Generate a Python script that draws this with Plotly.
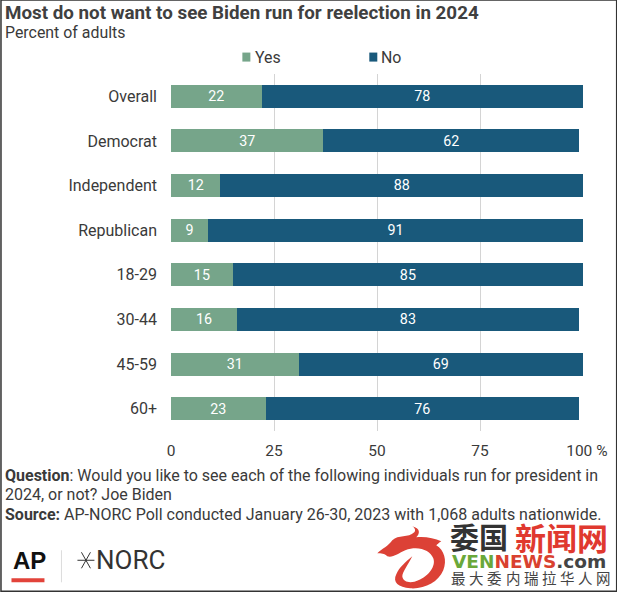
import plotly.graph_objects as go

categories = ["Overall", "Democrat", "Independent", "Republican", "18-29", "30-44", "45-59", "60+"]
yes_values = [22, 37, 12, 9, 15, 16, 31, 23]
no_values = [78, 62, 88, 91, 85, 83, 69, 76]
x_ticks = [0, 25, 50, 75, 100]
x_labels = ["0", "25", "50", "75", "\u00a0\u00a0100 %"]
YES = "#76a58a"
NO = "#19597b"
W, H = 617, 592
L, R, T, B = 170.6, 582.8, 74.4, 430.9
FONT = "Roboto"
TXT = "#3a3a3a"

fig = go.Figure()
for name, vals, col in [("Yes", yes_values, YES), ("No", no_values, NO)]:
    fig.add_bar(y=categories, x=vals, name=name, orientation="h", marker=dict(color=col, line_width=0),
                text=[str(v) for v in vals], textposition="inside", insidetextanchor="middle", textangle=0,
                textfont=dict(color="white", size=16, family=FONT))

def px(x): return (x - L) / (R - L)
def py(y): return 1 - (y - T) / (B - T)

def note(x, y, text, size, color=TXT, anchor="left", family=FONT):
    fig.add_annotation(xref="paper", yref="paper", x=px(x), y=py(y), text=text, showarrow=False,
                       xanchor=anchor, yanchor="middle", align="left", borderpad=0, borderwidth=0,
                       font=dict(size=size, color=color, family=family))

def seg(x0, y0, x1, y1, color, width):
    fig.add_shape(type="line", xref="paper", yref="paper", x0=px(x0), x1=px(x1), y0=py(y0), y1=py(y1),
                  line=dict(color=color, width=width))

note(4.5, 13, "<b>Most do not want to see Biden run for reelection in 2024</b>", 18.8, "#404040")
note(4.5, 33, "Percent of adults", 15.9)
note(4.5, 475, "<b>Question</b>: Would you like to see each of the following individuals run for president in", 16.0)
note(4.5, 494, "2024, or not? Joe Biden", 16.0)
note(4.5, 514, "<b>Source:</b> AP-NORC Poll conducted January 26-30, 2023 with 1,068 adults nationwide.", 16.0)

# legend
for x0, col in [(242, YES), (369, NO)]:
    fig.add_shape(type="rect", xref="paper", yref="paper", x0=px(x0), x1=px(x0+8), y0=py(62), y1=py(53), fillcolor=col, line_width=0)
note(254.5, 57.5, "Yes", 15.9)
note(381, 57.5, "No", 15.9)

# logos
note(13, 560, "<b>AP</b>", 24, "#111111", family="Liberation Sans")
fig.add_shape(type="rect", xref="paper", yref="paper", x0=px(11), x1=px(44), y0=py(582), y1=py(578), fillcolor="#e2433a", line_width=0)
seg(61, 550, 61, 582, "#dcdcdc", 1)
seg(77, 560, 94, 560, "#333333", 1)
seg(81, 552, 90, 568, "#333333", 1)
seg(90, 552, 81, 568, "#333333", 1)
note(95.5, 560, "NORC", 26, "#333333")

# watermark
note(450, 536, "<b>委国</b>", 29, "#333333", family="Noto Sans CJK SC")
note(515, 536, "<b>新闻网</b>", 31, "#e0392f", family="Noto Sans CJK SC")
fig.add_annotation(xref="paper", yref="paper", x=px(450), y=py(561), showarrow=False, xanchor="left", yanchor="middle",
                   text="<b><span style='color:#6aa83a'>VEN</span><span style='color:#d9412f'>NEWS</span><span style='color:#444'>.com</span></b>",
                   font=dict(size=18.5, family="DejaVu Sans"))
watermark_chars = "最大委内瑞拉华人网"
for i, ch in enumerate(watermark_chars):
    note(451 + i * 18.1, 577, ch, 14.5, "#444444", family="Noto Sans CJK SC")

start = (377, 553)
curves = [
    [(382, 548), (388, 546), (392, 540)], [(398, 534), (408, 538), (414, 532)], [(416, 530), (414, 527), (412, 526)],
    [(420, 528), (420, 533), (416, 537)], [(425, 536), (434, 538), (441, 541)], [(438, 543), (437, 544), (436, 545)],
    [(444, 550), (447, 560), (443, 570)], [(438, 582), (424, 589), (410, 588)], [(398, 587), (392, 582), (396, 574)],
    [(399, 567), (405, 562), (412, 556)], [(408, 564), (402, 572), (402, 576)], [(403, 583), (412, 583), (418, 580)],
    [(428, 576), (436, 566), (433, 558)], [(430, 550), (418, 545), (405, 550)], [(398, 553), (392, 558), (387, 556)],
    [(384, 553), (381, 553), (377, 553)],
]
path = f"M {px(start[0])} {py(start[1])} " + " ".join(
    "C " + " ".join(f"{px(a)} {py(b)}" for a, b in c) for c in curves) + " Z"
fig.add_shape(type="path", xref="paper", yref="paper", fillcolor="#dc4136", line_width=0, path=path)

# frame
fig.add_shape(type="rect", xref="paper", yref="paper", x0=px(0.5), x1=px(W-0.5), y0=py(H-1), y1=py(0.5),
              line=dict(color="#333333", width=1.5), fillcolor="rgba(0,0,0,0)")

fig.update_layout(
    width=W, height=H, barmode="stack", bargap=0.485, showlegend=False,
    margin=dict(l=L, r=W-R, t=T, b=H-B, pad=0, autoexpand=False),
    paper_bgcolor="white", plot_bgcolor="white",
    font=dict(family=FONT, color=TXT, size=16),
    xaxis=dict(range=[0, 100], tickvals=x_ticks, ticktext=x_labels, side="bottom", showgrid=True, automargin=False,
               gridcolor="#d4d4d4", gridwidth=1, zeroline=False, showline=False, ticks="", tickfont=dict(size=15.5), ticklabelstandoff=8),
    yaxis=dict(autorange="reversed", categoryorder="array", categoryarray=categories, showgrid=False, showline=False, automargin=False,
               ticks="", tickfont=dict(size=16), ticklabelstandoff=13),
)
fig.write_html("out.html", config={"displayModeBar": False},
               post_script="document.body.style.margin='0';document.body.style.overflow='hidden';")
